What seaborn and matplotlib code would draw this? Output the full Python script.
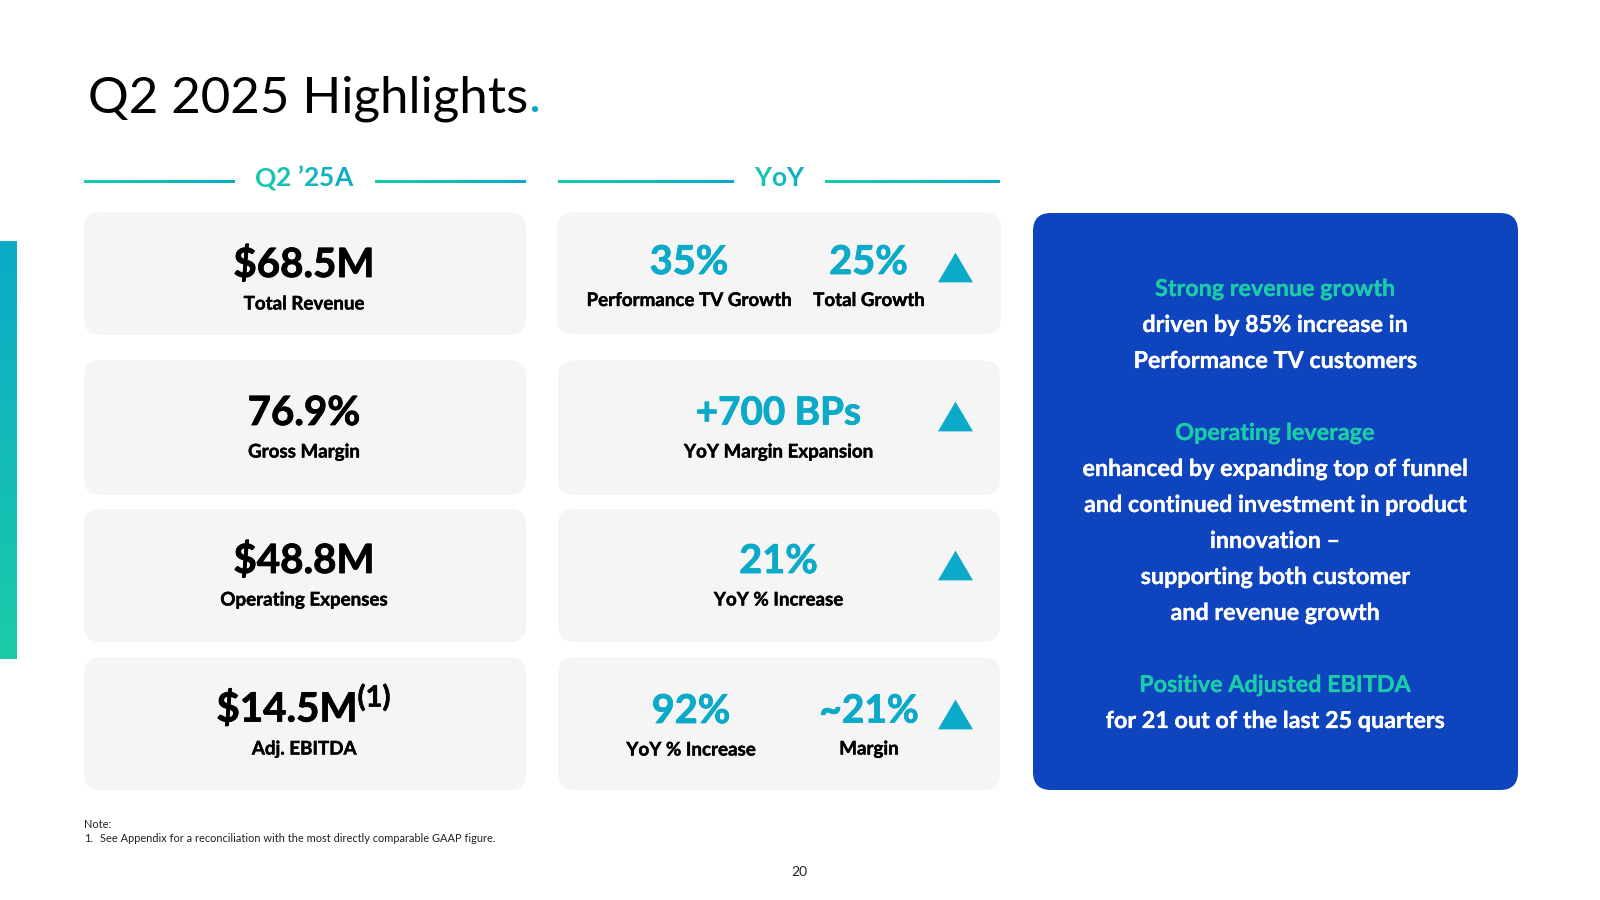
import numpy as np
import seaborn as sns
import matplotlib.pyplot as plt
import matplotlib.patheffects as pe
from matplotlib.patches import FancyBboxPatch
from matplotlib.colors import LinearSegmentedColormap

sns.set_theme(style='white')
plt.rcParams['font.family'] = ['Lato', 'DejaVu Sans']

#slide text
title_text = 'Q2 2025 Highlights'
head_left = 'Q2 ’25A'
head_mid = 'YoY'
kpi_values = ['$68.5M', '76.9%', '$48.8M', '$14.5M']
kpi_labels = ['Total Revenue', 'Gross Margin', 'Operating Expenses', 'Adj. EBITDA']
yoy_row1 = ['35%', '25%']
yoy_row1_labels = ['Performance TV Growth', 'Total Growth']
yoy_row2 = '+700 BPs'
yoy_row2_label = 'YoY Margin Expansion'
yoy_row3 = '21%'
yoy_row3_label = 'YoY % Increase'
yoy_row4 = ['92%', '~21%']
yoy_row4_labels = ['YoY % Increase', 'Margin']
panel_lines = ['Strong revenue growth', 'driven by 85% increase in', 'Performance TV customers', '',
               'Operating leverage', 'enhanced by expanding top of funnel',
               'and continued investment in product', 'innovation –', 'supporting both customer',
               'and revenue growth', '', 'Positive Adjusted EBITDA', 'for 21 out of the last 25 quarters']
panel_heads = [0, 4, 11]
note_lines = ['Note:', '1.', 'See Appendix for a reconciliation with the most directly comparable GAAP figure.']
page_no = '20'

TEAL = '#0BAAC8'
GREEN = '#1ACCA8'
BLUE = '#0E44BE'
CARD = '#F5F5F5'
grad = LinearSegmentedColormap.from_list('grad', [GREEN, TEAL])

fig = plt.figure(figsize=(16, 9), dpi=100)
ax = fig.add_axes([0, 0, 1, 1])
ax.set_xlim(0, 1600)
ax.set_ylim(900, 0)
ax.axis('off')

def card(x0, x1, y0, y1, color=CARD, r=16):
    ax.add_patch(FancyBboxPatch((x0, y0), x1 - x0, y1 - y0, boxstyle='round,pad=0,rounding_size=%d' % r,
                                fc=color, ec='none', zorder=1))

def grad_box(x0, x1, y0, y1, vertical=False):
    g = np.linspace(0, 1, 256)
    g = g.reshape(-1, 1) if vertical else g.reshape(1, -1)
    ax.imshow(g, cmap=grad if not vertical else grad.reversed(), extent=[x0, x1, y1, y0], aspect='auto', zorder=2)

def grad_text(cx, y, s, size):
    #one text per letter so the heading runs green to blue
    r = fig.canvas.get_renderer()
    def width(t):
        tmp = ax.text(0, 0, t, fontsize=size, fontweight='bold')
        w = tmp.get_window_extent(r).width
        tmp.remove()
        return w
    total = width(s)
    x = cx - total / 2
    for i, ch in enumerate(s):
        if ch != ' ':
            px = width(s[:i]) if i > 0 else 0
            c = grad((px + width(ch) / 2) / total)
            ax.text(x + px, y, ch, fontsize=size, fontweight='bold', color=c, ha='left', va='baseline', zorder=3)

def label(x, y, s, size=13.5, color='black', weight='bold', ha='center', thick=0):
    t = ax.text(x, y, s, fontsize=size, fontweight=weight, color=color, ha=ha, va='baseline', zorder=3)
    if thick:
        #Lato bold is a bit lighter than the slide font
        t.set_path_effects([pe.withStroke(linewidth=thick, foreground=color)])

#title
title = ax.text(88, 112, title_text, fontsize=36.7, color='black', va='baseline', zorder=3)
tb = title.get_window_extent(fig.canvas.get_renderer())
ax.text(tb.x1, 112, '.', fontsize=36.7, color=TEAL, va='baseline', zorder=3)

#side bar and heading rules
grad_box(0, 17, 241, 659, vertical=True)
for x0, x1 in [(84, 235), (375, 526), (558, 734), (825, 1000)]:
    grad_box(x0, x1, 179.8, 182.8)
grad_text(304, 186, head_left, 19)
grad_text(779, 186, head_mid, 19)

#cards
rows = [(212.5, 335), (360.5, 495), (509, 642), (657.5, 790)]
for i, (y0, y1) in enumerate(rows):
    card(84, 526, y0, y1)
    card(557 if i == 0 else 558, 1001 if i == 0 else 1000, y0, y1 - (1 if i == 0 else 0))
card(1033, 1518, 213, 790, color=BLUE, r=18)

#left column
val_y = [277, 425, 573, 721.5]
lab_y = [309.5, 457.5, 605.5, 754.5]
for i in range(4):
    cx = 287 if i == 3 else 304
    label(cx, val_y[i], kpi_values[i], size=29, thick=0.6)
    label(304, lab_y[i], kpi_labels[i], thick=0.3)
label(374, 706.5, '(1)', size=21, thick=0.4)

#middle column
label(689, 274, yoy_row1[0], size=28.6, color=TEAL, thick=0.6)
label(868.5, 274, yoy_row1[1], size=28.6, color=TEAL, thick=0.6)
label(689, 306, yoy_row1_labels[0], thick=0.3)
label(869, 306, yoy_row1_labels[1], thick=0.3)
label(778.5, 424.5, yoy_row2, size=27.8, color=TEAL, thick=0.6)
label(778.5, 457.5, yoy_row2_label, thick=0.3)
label(778.5, 573, yoy_row3, size=28.6, color=TEAL, thick=0.6)
label(778.5, 605.5, yoy_row3_label, thick=0.3)
label(691, 723, yoy_row4[0], size=28.6, color=TEAL, thick=0.6)
label(869, 722.5, yoy_row4[1], size=28, color=TEAL, thick=0.6)
label(691, 755.5, yoy_row4_labels[0], thick=0.3)
label(869, 754.5, yoy_row4_labels[1], thick=0.3)

#up arrows
tri_x = [955] * 4
tri_y = [y + 54 for y in (212.5, 362, 510.5, 659.5)]
sns.scatterplot(x=tri_x, y=tri_y, ax=ax, marker=[(-1, -0.85), (1, -0.85), (0, 0.85)], s=635, color=TEAL,
                linewidth=0, zorder=3, legend=False)
ax.set_xlim(0, 1600)
ax.set_ylim(900, 0)

#blue panel text
for i, line in enumerate(panel_lines):
    if line:
        label(1275, 296 + 36 * i, line, size=16.8, color=GREEN if i in panel_heads else 'white', thick=0.2)

#footnote
label(84, 828, note_lines[0], size=7.9, weight='normal', ha='left', color='#222222')
label(84, 842, note_lines[1], size=7.9, weight='normal', ha='left', color='#222222')
label(100, 842, note_lines[2], size=7.9, weight='normal', ha='left', color='#222222')
label(799.5, 876, page_no, size=10, weight='normal', color='#222222')

fig.savefig('out.png', dpi=100)
